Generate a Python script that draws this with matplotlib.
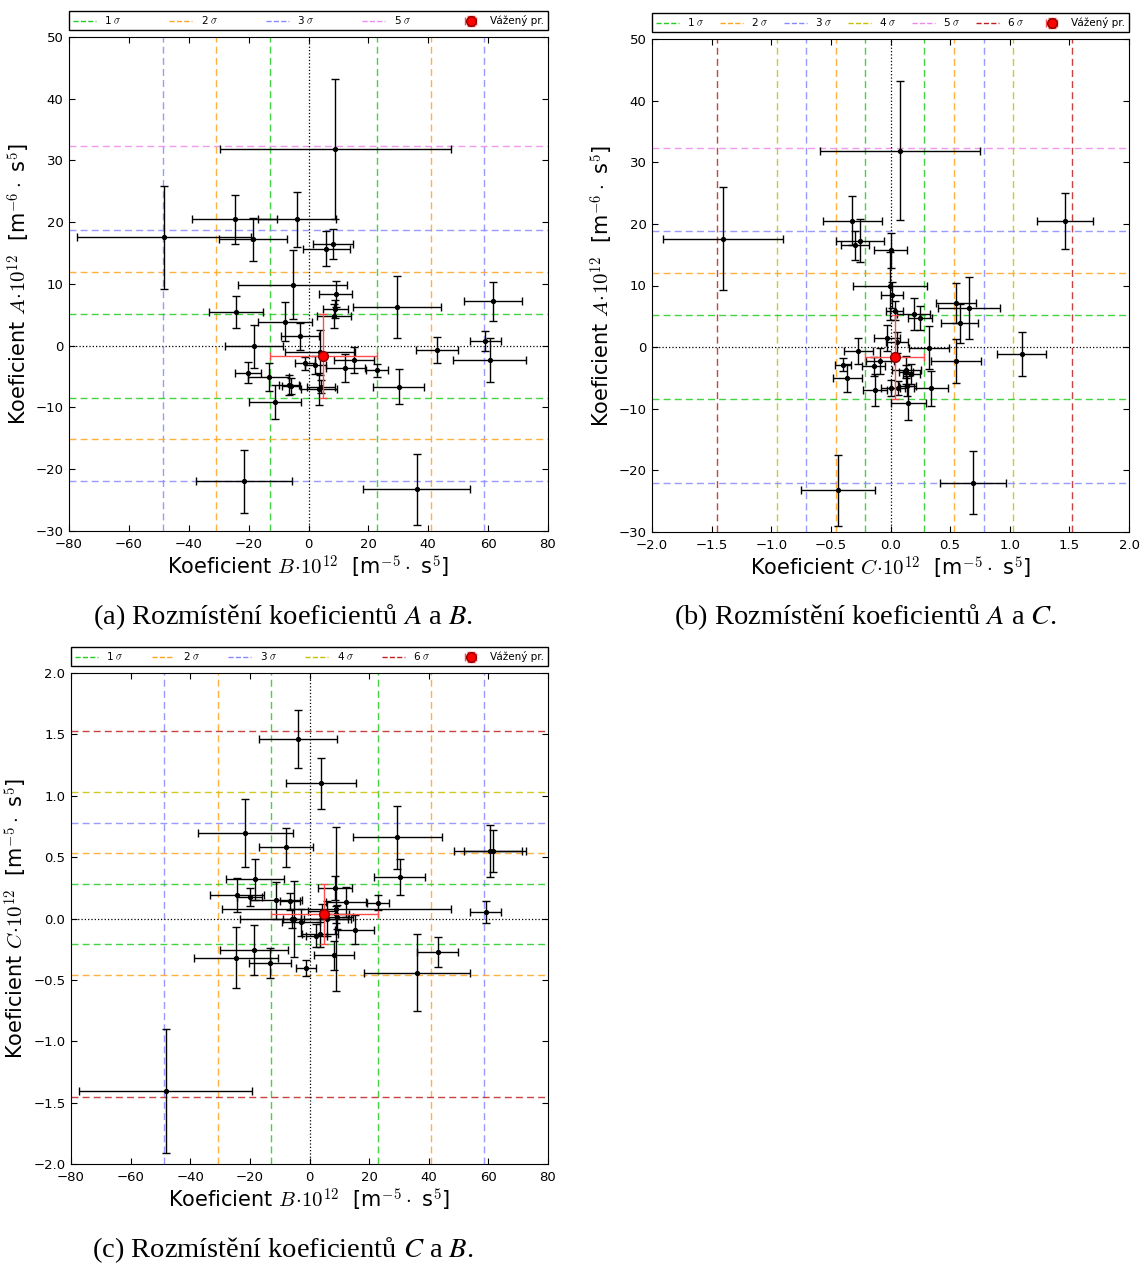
import numpy as np
import matplotlib
matplotlib.use("Agg")
import matplotlib.pyplot as plt
from matplotlib.lines import Line2D

# Koeficienty jednotlivých měření (hodnota, nejistota), v jednotkách 1e-12
B = [9.0, -48.3, -24.7, -3.8, -18.6, 8.2, 6.0, -5.3, 9.1, 29.5, 61.6, -24.2,
     8.9, 8.55, -7.9, -2.9, -18.3, 3.77, 43.0, 59.1, 60.5, 15.1, 12.3, 22.9,
     -1.2, 2.3, 4.3, 3.4, -13.25, -20.1, -6.5, -5.9, -11.25, 30.2, -21.5, 36.1]
B_err = [38.5, 29.0, 14.1, 13.0, 11.3, 6.7, 7.95, 18.1, 5.45, 14.8, 9.7, 9.1,
         4.2, 5.7, 9.1, 6.45, 9.7, 11.7, 6.95, 5.1, 12.1, 6.7, 6.6, 3.7,
         3.3, 3.5, 4.7, 6.0, 6.9, 4.3, 3.3, 2.9, 8.6, 8.5, 16.0, 17.85]
A = [31.9, 17.56, 20.5, 20.47, 17.24, 16.5, 15.7, 9.9, 8.4, 6.3, 7.17, 5.44,
     5.93, 4.8, 3.88, 1.52, -0.1, -1.07, -0.65, 0.76, -2.26, -2.26, -3.66, -4.0,
     -2.85, -3.12, -6.6, -7.0, -5.06, -4.36, -6.35, -6.56, -9.1, -6.67, -21.97, -23.26]
A_err = [11.3, 8.35, 3.95, 4.5, 3.47, 2.42, 2.83, 5.55, 2.1, 5.06, 3.23, 2.58,
         1.5, 1.94, 3.18, 2.15, 3.5, 3.6, 2.07, 1.67, 3.53, 2.1, 2.29, 1.08,
         1.08, 1.5, 1.1, 2.6, 2.26, 1.7, 1.64, 1.3, 2.8, 2.83, 5.14, 5.79]
C = [0.078, -1.406, -0.32, 1.46, -0.257, -0.30, 0.0, -0.007, 0.012, 0.66, 0.55, 0.194,
     0.035, 0.25, 0.58, -0.03, 0.32, 1.10, -0.27, 0.056, 0.55, -0.09, 0.134, 0.13,
     -0.40, -0.14, 0.06, -0.13, -0.363, 0.173, 0.14, 0.0, 0.15, 0.338, 0.694, -0.44]
C_err = [0.67, 0.505, 0.248, 0.235, 0.20, 0.117, 0.14, 0.31, 0.095, 0.26, 0.17, 0.14,
         0.07, 0.10, 0.157, 0.11, 0.168, 0.205, 0.122, 0.09, 0.21, 0.118, 0.12, 0.06,
         0.065, 0.095, 0.06, 0.10, 0.121, 0.072, 0.07, 0.08, 0.15, 0.145, 0.278, 0.31]

# vážený průměr a směrodatná odchylka
A_mean, A_sig = -1.6, 6.79
B_mean, B_sig = 5.0, 17.9
C_mean, C_sig = 0.037, 0.248

sigma_colors = {1: "#22cc22", 2: "#ffa520", 3: "#8888ff", 4: "#c8c000",
                5: "#ee88ee", 6: "#c02020"}

# násobky sigma vykreslené na ose (kladná strana, záporná strana)
a_x_levels = ([1, 2, 3], [1, 2, 3])
a_y_levels = ([1, 2, 3, 5], [1, 2, 3])
b_x_levels = ([1, 2, 3, 4, 6], [1, 2, 3, 4, 6])
b_y_levels = ([1, 2, 3, 5], [1, 3])
c_x_levels = ([1, 2, 3], [1, 2, 3])
c_y_levels = ([1, 2, 3, 4, 6], [1, 2, 6])

plt.rcParams.update({
    "font.family": "DejaVu Sans",
    "mathtext.fontset": "cm",
    "xtick.direction": "in",
    "ytick.direction": "in",
    "xtick.top": True,
    "ytick.right": True,
    "xtick.major.size": 4,
    "ytick.major.size": 4,
    "xtick.major.pad": 5,
    "ytick.major.pad": 4,
    "xtick.labelsize": 9.5,
    "ytick.labelsize": 9.5,
})

fig = plt.figure(figsize=(11.46, 12.66), dpi=100)


def sigma_lines(ax, mean, sig, levels, vertical):
    pos, neg = levels
    for sign, lv in ((1, pos), (-1, neg)):
        for k in lv:
            v = mean + sign * k * sig
            if vertical:
                ax.axvline(v, color=sigma_colors[k], ls="--", dashes=(5, 3), lw=1, alpha=0.85, zorder=1)
            else:
                ax.axhline(v, color=sigma_colors[k], ls="--", dashes=(5, 3), lw=1, alpha=0.85, zorder=1)
    return set(pos) | set(neg)


def panel(rect, x, xe, y, ye, xm, xs, ym, ys, xlev, ylev, xlim, ylim, xticks, yticks, xlabel, ylabel):
    ax = fig.add_axes(rect)
    used = sigma_lines(ax, xm, xs, xlev, True) | sigma_lines(ax, ym, ys, ylev, False)
    ax.axhline(0, color="k", ls=":", lw=0.9, zorder=1)
    ax.axvline(0, color="k", ls=":", lw=0.9, zorder=1)
    ax.errorbar(x, y, xerr=xe, yerr=ye, fmt=".", color="k", ms=5.5, elinewidth=1,
                capsize=3, capthick=1, zorder=3)
    mean = ax.errorbar([xm], [ym], xerr=[xs], yerr=[ys], fmt="o", color="red", ms=7,
                       mec="darkred", ecolor=(1, 0.3, 0.3), elinewidth=1, capsize=3,
                       capthick=1, zorder=4)
    ax.set_xlim(*xlim)
    ax.set_ylim(*ylim)
    ax.set_xticks(xticks)
    ax.set_yticks(yticks)
    ax.set_xlabel(xlabel, fontsize=15, labelpad=2)
    ax.set_ylabel(ylabel, fontsize=15, labelpad=2)

    handles = [Line2D([], [], color=sigma_colors[k], ls="--", lw=1) for k in sorted(used)]
    labels = [f"{k} $\\sigma$" for k in sorted(used)]
    handles.append(mean)
    labels.append("Vážený pr.")
    ax.legend(handles, labels, ncol=len(labels), mode="expand", loc="lower left",
              bbox_to_anchor=(0, 1.014, 1, 0.04), borderaxespad=0, fontsize=7.5,
              fancybox=False, edgecolor="k", framealpha=1, handlelength=2.2,
              handletextpad=0.8, borderpad=0.35, numpoints=1)
    ax.legend_.get_frame().set_linewidth(1)
    return ax


lab_A = r"Koeficient $A\!\cdot\!10^{12}$  [m$^{-6}\cdot$ s$^{5}$]"
lab_B = r"Koeficient $B\!\cdot\!10^{12}$  [m$^{-5}\cdot$ s$^{5}$]"
lab_C = r"Koeficient $C\!\cdot\!10^{12}$  [m$^{-5}\cdot$ s$^{5}$]"

# (a) A proti B
panel([69 / 1146, 1 - 531 / 1266, 479 / 1146, 494 / 1266],
      B, B_err, A, A_err, B_mean, B_sig, A_mean, A_sig, a_x_levels, a_y_levels,
      (-80, 80), (-30, 50), np.arange(-80, 81, 20), np.arange(-30, 51, 10), lab_B, lab_A)

# (b) A proti C
panel([652 / 1146, 1 - 532 / 1266, 477 / 1146, 493 / 1266],
      C, C_err, A, A_err, C_mean, C_sig, A_mean, A_sig, b_x_levels, b_y_levels,
      (-2, 2), (-30, 50), np.arange(-2, 2.01, 0.5), np.arange(-30, 51, 10), lab_C, lab_A)

# (c) C proti B
panel([71 / 1146, 1 - 1164 / 1266, 477 / 1146, 491 / 1266],
      B, B_err, C, C_err, B_mean, B_sig, C_mean, C_sig, c_x_levels, c_y_levels,
      (-80, 80), (-2, 2), np.arange(-80, 81, 20), np.arange(-2, 2.01, 0.5), lab_B, lab_C)

cap_kw = dict(ha="center", va="center", fontsize=20.5, family="Liberation Serif", math_fontfamily="stix")
fig.text(283 / 1146, 1 - 617 / 1266, "(a) Rozmístění koeficientů $A$ a $B$.", **cap_kw)
fig.text(866 / 1146, 1 - 617 / 1266, "(b) Rozmístění koeficientů $A$ a $C$.", **cap_kw)
fig.text(283 / 1146, 1 - 1250 / 1266, "(c) Rozmístění koeficientů $C$ a $B$.", **cap_kw)

fig.savefig("out.png", dpi=100)
